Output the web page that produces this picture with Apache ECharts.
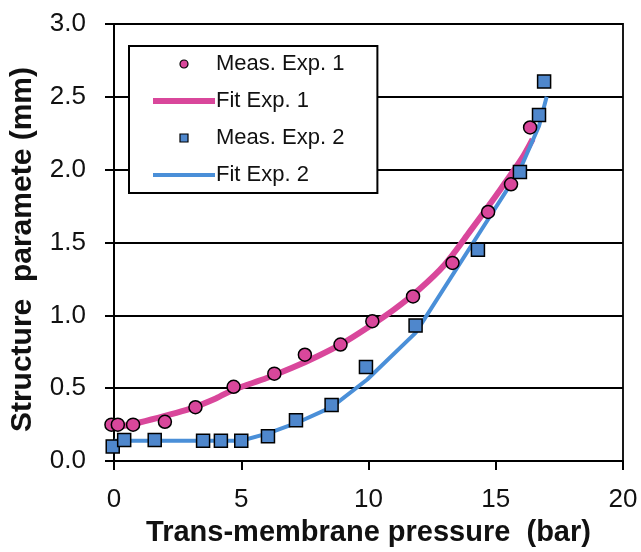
<!DOCTYPE html>
<html>
<head>
    <meta charset="UTF-8">
    <title>Structure parameter</title>
    <script src="https://cdn.jsdelivr.net/npm/echarts@6/dist/echarts.min.js"></script>
    <style>
        html, body { margin: 0; padding: 0; background: #fff; }
        #chart { width: 641px; height: 552px; }
    </style>
</head>
<body>
<div id="chart"></div>
<script type="text/javascript">
    // measured points, experiment 1 (circles)
    const exp1X = [-0.1, 0.15, 0.75, 2.0, 3.2, 4.7, 6.3, 7.5, 8.9, 10.15, 11.75, 13.3, 14.7, 15.6, 16.35];
    const exp1Y = [0.25, 0.25, 0.25, 0.27, 0.37, 0.51, 0.60, 0.73, 0.80, 0.96, 1.13, 1.36, 1.71, 1.90, 2.29];
    // fitted curve, experiment 1
    const fit1X = [0.2, 1, 2, 3, 4, 4.7, 6, 7, 8, 9, 10, 11, 12, 13, 14, 15, 16, 16.45];
    const fit1Y = [0.235, 0.265, 0.31, 0.36, 0.43, 0.49, 0.57, 0.64, 0.72, 0.81, 0.92, 1.04, 1.18, 1.35, 1.58, 1.82, 2.07, 2.21];
    // measured points, experiment 2 (squares)
    const exp2X = [-0.05, 0.4, 1.6, 3.5, 4.2, 5.0, 6.05, 7.15, 8.55, 9.9, 11.85, 14.3, 15.95, 16.7, 16.9];
    const exp2Y = [0.10, 0.145, 0.145, 0.14, 0.14, 0.14, 0.17, 0.28, 0.385, 0.645, 0.93, 1.45, 1.985, 2.375, 2.605];
    // fitted curve, experiment 2
    const fit2X = [0, 5.0, 6.05, 7.15, 8.55, 9.95, 11.85, 14.3, 15.95, 16.7, 17.0];
    const fit2Y = [0.14, 0.14, 0.19, 0.26, 0.37, 0.56, 0.88, 1.55, 2.0, 2.3, 2.5];

    const seriesNames = ['Meas. Exp. 1', 'Fit Exp. 1', 'Meas. Exp. 2', 'Fit Exp. 2'];

    const pink = '#d9479b';
    const blue = '#4a8fd8';
    const blueFill = '#4f87cc';
    const font = 'Liberation Sans, Arial, sans-serif';

    function pairs(xs, ys) {
        return xs.map((x, i) => [x, ys[i]]);
    }

    let chart = echarts.init(document.getElementById('chart'));

    // line entries in the legend: plain line, no marker in the middle
    const hideMarker = {color: 'transparent', borderColor: 'transparent', borderWidth: 0};

    let option = {
        backgroundColor: '#fff',
        animation: false,
        grid: {
            left: 112, right: 18, top: 24, bottom: 88,
            show: true, borderColor: '#000', borderWidth: 1.8
        },
        legend: {
            left: 129, top: 46,
            orient: 'vertical',
            data: [
                {name: seriesNames[0], icon: 'circle'},
                {name: seriesNames[1], itemStyle: hideMarker, lineStyle: {width: 6, color: pink}},
                {name: seriesNames[2], icon: 'path://M0,0L10,0L10,10L0,10Z'},
                {name: seriesNames[3], itemStyle: hideMarker, lineStyle: {width: 4, color: blue}}
            ],
            itemWidth: 62, itemHeight: 8,
            itemGap: 15,
            symbolKeepAspect: true,
            itemStyle: {borderColor: '#000', borderWidth: 1.2},
            padding: [7, 33, 7, 21],
            borderColor: '#000', borderWidth: 2,
            backgroundColor: '#fff',
            textStyle: {fontFamily: font, fontSize: 22, color: '#111', lineHeight: 22, padding: [0, 0, 0, -4]}
        },
        xAxis: {
            type: 'value', min: 0, max: 20, interval: 5,
            name: 'Trans-membrane pressure  (bar)',
            nameLocation: 'middle', nameGap: 52,
            nameTextStyle: {fontFamily: font, fontSize: 29, fontWeight: 'bold', color: '#111'},
            axisLine: {lineStyle: {color: '#000', width: 2}},
            axisTick: {length: 9, lineStyle: {color: '#000', width: 2}},
            axisLabel: {fontFamily: font, fontSize: 26, color: '#111', margin: 26},
            splitLine: {show: false}
        },
        yAxis: {
            type: 'value', min: 0, max: 3, interval: 0.5,
            name: 'Structure  paramete (mm)',
            nameLocation: 'middle', nameGap: 76,
            nameTextStyle: {fontFamily: font, fontSize: 30, fontWeight: 'bold', color: '#111',
                padding: [0, 14, 0, 0]},
            axisLine: {show: true, lineStyle: {color: '#000', width: 2}},
            axisTick: {show: true, length: 9, lineStyle: {color: '#000', width: 2}},
            axisLabel: {fontFamily: font, fontSize: 26, color: '#111', margin: 28,
                formatter: v => v.toFixed(1)},
            splitLine: {lineStyle: {color: '#000', width: 1.8}}
        },
        series: [
            {
                name: seriesNames[0], type: 'scatter', z: 4, clip: false,
                symbol: 'circle', symbolSize: 13,
                itemStyle: {color: pink, borderColor: '#000', borderWidth: 1.5, opacity: 1},
                data: pairs(exp1X, exp1Y)
            },
            {
                name: seriesNames[1], type: 'line', z: 2,
                symbol: 'none', smooth: 0.3,
                lineStyle: {color: pink, width: 6},
                itemStyle: {color: pink},
                data: pairs(fit1X, fit1Y)
            },
            {
                name: seriesNames[2], type: 'scatter', z: 5, clip: false,
                symbol: 'rect', symbolSize: 13,
                itemStyle: {color: blueFill, borderColor: '#000', borderWidth: 1.5, opacity: 1},
                data: pairs(exp2X, exp2Y)
            },
            {
                name: seriesNames[3], type: 'line', z: 3,
                symbol: 'none',
                lineStyle: {color: blue, width: 4},
                itemStyle: {color: blue},
                data: pairs(fit2X, fit2Y)
            }
        ]
    };

    chart.setOption(option);
</script>
</body>
</html>
